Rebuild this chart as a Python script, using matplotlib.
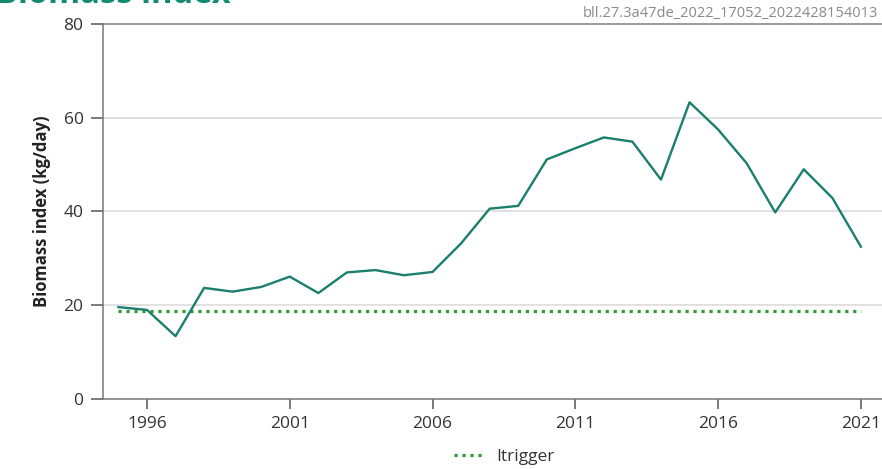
import matplotlib
matplotlib.use("Agg")
import matplotlib.pyplot as plt
from matplotlib.lines import Line2D

years = list(range(1995, 2022))
biomass = [19.6, 19.0, 13.4, 23.7, 22.9, 23.9, 26.1, 22.6, 27.0, 27.5, 26.4, 27.1,
           33.2, 40.6, 41.2, 51.1, 53.5, 55.8, 54.9, 46.8, 63.3, 57.5, 50.3, 39.8,
           49.0, 42.9, 32.5]
itrigger_value = 18.8
itrigger_years = [1995, 2021]
xticks = [1996, 2001, 2006, 2011, 2016, 2021]
yticks = [0, 20, 40, 60, 80]

plt.rcParams['font.family'] = ['Open Sans', 'DejaVu Sans']

fig = plt.figure(figsize=(8.82, 4.69), dpi=100)
ax = fig.add_axes([0.1168, 0.1493, 0.8832, 0.7995])

for y in yticks[1:-1]:
    ax.axhline(y, color='#dcdcdc', lw=1.2, zorder=0)
ax.axhline(80, color='#8a8a8a', lw=1.2, zorder=0, clip_on=False)

ax.plot(years, biomass, color='#1a7f6d', lw=1.7, zorder=3)
ax.plot(itrigger_years, [itrigger_value] * 2, color='#2f9a36', lw=2.3,
        dashes=(1.0, 1.5), zorder=2)

ax.set_xlim(1994.46, 2021.74)
ax.set_ylim(0, 80)
ax.set_xticks(xticks)
ax.set_yticks(yticks)
ax.tick_params(axis='both', colors='#555555', labelcolor='#333333', labelsize=12.5,
               length=9, width=1.1)
ax.tick_params(axis='y', pad=5)
ax.tick_params(axis='x', length=7, pad=5)
for s in ['top', 'right']:
    ax.spines[s].set_visible(False)
for s in ['left', 'bottom']:
    ax.spines[s].set_color('#777777')
    ax.spines[s].set_linewidth(1.1)

ax.set_ylabel('Biomass index (kg/day)', fontsize=12, fontweight='bold',
              color='#222222', labelpad=9)

fig.text(-0.004, 0.994, 'Biomass index', fontsize=23.5, fontweight='bold',
         color='#128a72', ha='left', va='baseline')
fig.text(0.996, 0.972, 'bll.27.3a47de_2022_17052_2022428154013', fontsize=10.5,
         color='#8a8a8a', ha='right', va='center')

handle = Line2D([0], [0], color='#2f9a36', lw=2.3, dashes=(1.0, 1.5))
fig.legend([handle], ['Itrigger'], loc='center', bbox_to_anchor=(0.572, 0.025),
           frameon=False, fontsize=12.5, handlelength=1.6, labelcolor='#333333')

fig.savefig('out.png', dpi=100)
